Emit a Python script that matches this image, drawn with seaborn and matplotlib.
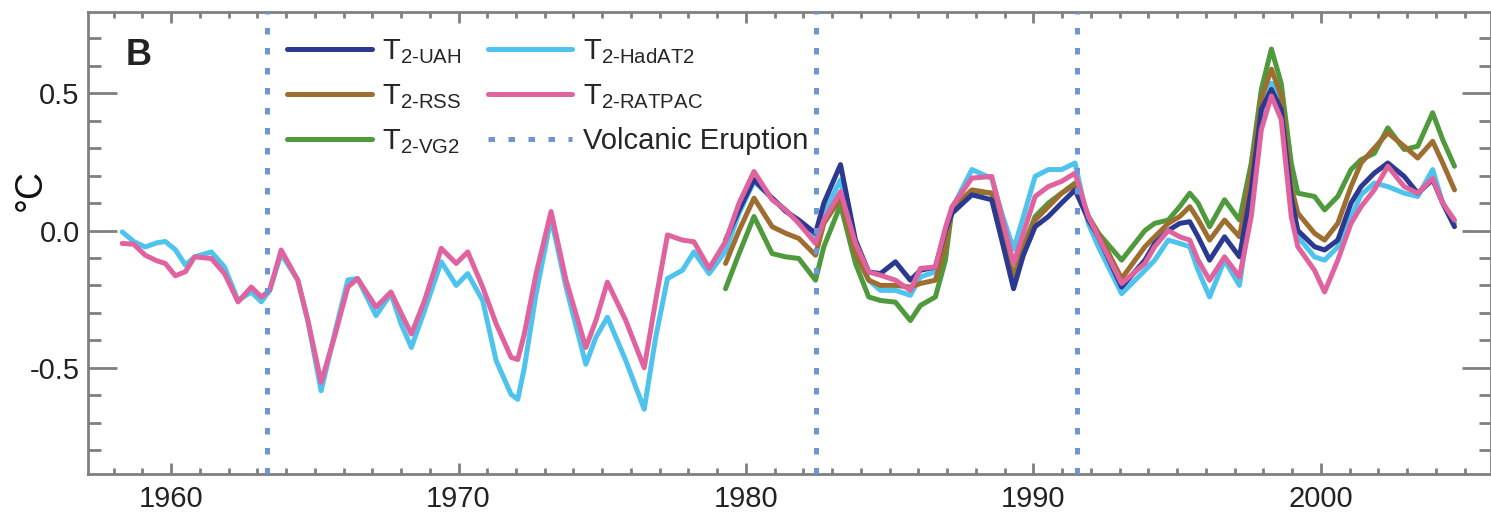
import matplotlib
matplotlib.use("Agg")
import matplotlib.pyplot as plt
import seaborn as sns
from matplotlib.ticker import MultipleLocator
from matplotlib.lines import Line2D

# ---------------- data ----------------
years_pre1979 = [1958.3, 1958.7, 1959.1, 1959.5, 1959.8, 1960.15, 1960.5, 1960.82, 1961.4, 1961.86,
                 1962.33, 1962.79, 1963.14, 1963.43, 1963.83, 1964.41, 1964.76, 1965.22, 1965.68, 1966.15,
                 1966.49, 1967.13, 1967.65, 1968.0, 1968.36, 1968.82, 1969.4, 1969.92, 1970.32, 1970.84,
                 1971.31, 1971.83, 1972.06, 1972.29, 1972.7, 1973.22, 1973.74, 1974.43, 1974.78, 1975.18,
                 1975.82, 1976.46, 1976.86, 1977.27, 1977.79, 1978.19, 1978.72]
years_sat = [1979.29, 1979.76, 1980.28, 1980.91, 1981.38, 1981.84, 1982.42, 1982.71, 1983.29, 1983.81,
             1984.27, 1984.68, 1985.2, 1985.72, 1986.07, 1986.59, 1986.94, 1987.17, 1987.86, 1988.55,
             1988.9, 1989.31, 1989.65, 1990.06, 1990.52, 1990.98, 1991.45, 1991.91, 1992.26, 1993.07,
             1993.88, 1994.22, 1994.69, 1995.09, 1995.44, 1995.73, 1996.13, 1996.65, 1997.17, 1997.58,
             1997.93, 1998.28, 1998.62, 1998.97, 1999.2, 1999.78, 2000.13, 2000.59, 2001.05, 2001.4,
             2001.86, 2002.33, 2002.9, 2003.37, 2003.89, 2004.24, 2004.65]
years_sonde = years_pre1979 + years_sat

hadat2 = [-0.005, -0.04, -0.06, -0.045, -0.04, -0.07, -0.126, -0.096, -0.078, -0.133,
          -0.255, -0.224, -0.26, -0.218, -0.085, -0.181, -0.33, -0.584, -0.38, -0.18,
          -0.175, -0.31, -0.23, -0.34, -0.426, -0.291, -0.114, -0.2, -0.157, -0.255,
          -0.474, -0.597, -0.615, -0.5, -0.23, 0.045, -0.206, -0.487, -0.389, -0.316,
          -0.474, -0.651, -0.389, -0.175, -0.145, -0.078, -0.157,
          -0.075, 0.063, 0.179, 0.118, 0.075, 0.03, -0.023, 0.063, 0.185, -0.071,
          -0.181, -0.218, -0.218, -0.236, -0.169, -0.15, -0.01, 0.08, 0.222, 0.19,
          0.063, -0.068, 0.05, 0.197, 0.222, 0.222, 0.246, 0.026, -0.059, -0.23,
          -0.145, -0.108, -0.035, -0.047, -0.059, -0.145, -0.242, -0.108, -0.2, 0.1,
          0.42, 0.537, 0.453, 0.1, -0.023, -0.096, -0.108, -0.06, 0.05, 0.13,
          0.173, 0.16, 0.136, 0.124, 0.222, 0.1, 0.026]
ratpac = [-0.047, -0.05, -0.09, -0.11, -0.12, -0.165, -0.15, -0.096, -0.102, -0.157,
          -0.26, -0.206, -0.242, -0.218, -0.071, -0.181, -0.328, -0.553, -0.389, -0.206,
          -0.175, -0.279, -0.224, -0.30, -0.377, -0.255, -0.065, -0.12, -0.078, -0.206,
          -0.34, -0.462, -0.47, -0.377, -0.157, 0.069, -0.181, -0.426, -0.328, -0.188,
          -0.328, -0.5, -0.255, -0.016, -0.035, -0.041, -0.138,
          -0.04, 0.1, 0.215, 0.112, 0.075, 0.026, -0.047, 0.038, 0.142, -0.047,
          -0.151, -0.163, -0.181, -0.218, -0.138, -0.133, 0.01, 0.087, 0.191, 0.197,
          0.051, -0.12, -0.01, 0.124, 0.16, 0.179, 0.209, 0.051, -0.023, -0.193,
          -0.12, -0.059, 0.0, -0.023, -0.035, -0.108, -0.181, -0.096, -0.169, 0.051,
          0.368, 0.49, 0.405, 0.051, -0.059, -0.145, -0.224, -0.108, 0.026, 0.087,
          0.148, 0.234, 0.16, 0.136, 0.19, 0.1, 0.038]
uah = [-0.035, 0.075, 0.185, 0.118, 0.07, 0.038, -0.01, 0.1, 0.24, -0.035,
       -0.151, -0.157, -0.114, -0.181, -0.145, -0.133, 0.0, 0.063, 0.13, 0.112,
       -0.035, -0.212, -0.09, 0.014, 0.051, 0.1, 0.148, 0.04, -0.023, -0.206,
       -0.108, -0.047, 0.0, 0.026, 0.032, -0.023, -0.108, -0.023, -0.096, 0.148,
       0.441, 0.514, 0.44, 0.12, 0.0, -0.059, -0.071, -0.035, 0.1, 0.16,
       0.209, 0.246, 0.197, 0.136, 0.185, 0.1, 0.014]
rss = [-0.12, 0.0, 0.118, 0.014, -0.01, -0.029, -0.09, 0.026, 0.118, -0.084,
       -0.181, -0.2, -0.2, -0.206, -0.193, -0.181, -0.059, 0.08, 0.148, 0.136,
       0.03, -0.181, -0.06, 0.038, 0.087, 0.136, 0.167, 0.051, -0.01, -0.175,
       -0.059, -0.023, 0.026, 0.051, 0.087, 0.04, -0.035, 0.038, -0.023, 0.209,
       0.48, 0.588, 0.49, 0.16, 0.063, -0.01, -0.035, 0.026, 0.16, 0.246,
       0.3, 0.356, 0.307, 0.264, 0.325, 0.246, 0.148]
vg2 = [-0.212, -0.084, 0.051, -0.084, -0.096, -0.102, -0.181, -0.059, 0.093, -0.12,
       -0.242, -0.255, -0.261, -0.328, -0.273, -0.242, -0.108, 0.08, 0.142, 0.136,
       0.0, -0.169, -0.06, 0.051, 0.1, 0.136, 0.173, 0.051, -0.01, -0.108,
       0.0, 0.026, 0.038, 0.087, 0.136, 0.1, 0.014, 0.112, 0.038, 0.246,
       0.514, 0.661, 0.537, 0.246, 0.136, 0.124, 0.075, 0.124, 0.222, 0.258,
       0.281, 0.374, 0.295, 0.307, 0.429, 0.331, 0.234]

eruption_years = [1963.35, 1982.45, 1991.5]

y_ticks = [-0.5, 0.0, 0.5]
y_ticklabels = ["-0.5", "0.0", "0.5"]
x_ticks = [1960, 1970, 1980, 1990, 2000]

labels = {
    "uah": r"$\mathregular{T}_{\mathregular{2\text{-}UAH}}$",
    "rss": r"$\mathregular{T}_{\mathregular{2\text{-}RSS}}$",
    "vg2": r"$\mathregular{T}_{\mathregular{2\text{-}VG2}}$",
    "hadat2": r"$\mathregular{T}_{\mathregular{2\text{-}HadAT2}}$",
    "ratpac": r"$\mathregular{T}_{\mathregular{2\text{-}RATPAC}}$",
}
colors = {"uah": "#2B3990", "rss": "#9E6E31", "vg2": "#4E9A3C",
          "hadat2": "#4DC3EE", "ratpac": "#E0639F", "volc": "#6F96D4"}

# ---------------- figure ----------------
sns.set_style("ticks")
plt.rcParams['font.family'] = ['Liberation Sans', 'DejaVu Sans']
plt.rcParams['mathtext.fontset'] = 'custom'
plt.rcParams['mathtext.rm'] = 'Liberation Sans'

W, H = 1491, 513
fig = plt.figure(figsize=(W / 100, H / 100), dpi=100)
ax = fig.add_axes([88 / W, 1 - 474 / H, (W - 88) / W, (474 - 12) / H])

lw = 3.6
series = [
    ("hadat2", years_sonde, hadat2, 2.0),
    ("vg2", years_sat, vg2, 2.1),
    ("rss", years_sat, rss, 2.2),
    ("uah", years_sat, uah, 2.3),
    ("ratpac", years_sonde, ratpac, 2.4),
]
for key, xs, ys, z in series:
    sns.lineplot(x=xs, y=ys, ax=ax, color=colors[key], lw=lw, zorder=z,
                 sort=False, estimator=None)

volc_style = dict(color=colors["volc"], lw=3.6, linestyle=(0, (1.3, 2.7)))
for ey in eruption_years:
    ax.axvline(ey, zorder=5, **volc_style)

ax.set_xlim(1957.11, 2005.92)
ax.set_ylim(-0.887, 0.796)

ax.set_xticks(x_ticks)
ax.xaxis.set_minor_locator(MultipleLocator(1))
ax.set_yticks(y_ticks)
ax.set_yticklabels(y_ticklabels)
ax.yaxis.set_minor_locator(MultipleLocator(0.1))

tick_col = "#808080"
ax.tick_params(axis="both", which="both", direction="in", top=True, right=True,
               color=tick_col, width=2, labelsize=21, labelcolor="#222222")
ax.tick_params(axis="y", which="major", length=21, pad=6)
ax.tick_params(axis="y", which="minor", length=9)
ax.tick_params(axis="x", which="major", length=8, pad=8)
ax.tick_params(axis="x", which="minor", length=4)
for s in ax.spines.values():
    s.set_color(tick_col)
    s.set_linewidth(2)

ax.set_xlabel("")
ax.set_ylabel("")
fig.text(31 / W, 1 - 190 / H, "°C", rotation=90, ha="center", va="center",
         fontsize=27, color="#111111")
ax.text(0.027, 0.905, "B", transform=ax.transAxes, fontsize=26, fontweight="bold",
        color="#222222", va="center", ha="left")

handles = [Line2D([], [], color=colors[k], lw=lw) for k in ["uah", "rss", "vg2", "hadat2", "ratpac"]]
handles.append(Line2D([], [], **volc_style))
leg_labels = [labels[k] for k in ["uah", "rss", "vg2", "hadat2", "ratpac"]] + ["Volcanic Eruption"]
ax.legend(handles, leg_labels, loc="upper left", bbox_to_anchor=(0.142, 0.945), ncol=2,
          frameon=False, fontsize=21, handlelength=2.9, handletextpad=0.35,
          columnspacing=0.9, labelspacing=0.55, borderpad=0, borderaxespad=0)

fig.savefig("out.png", dpi=100)
